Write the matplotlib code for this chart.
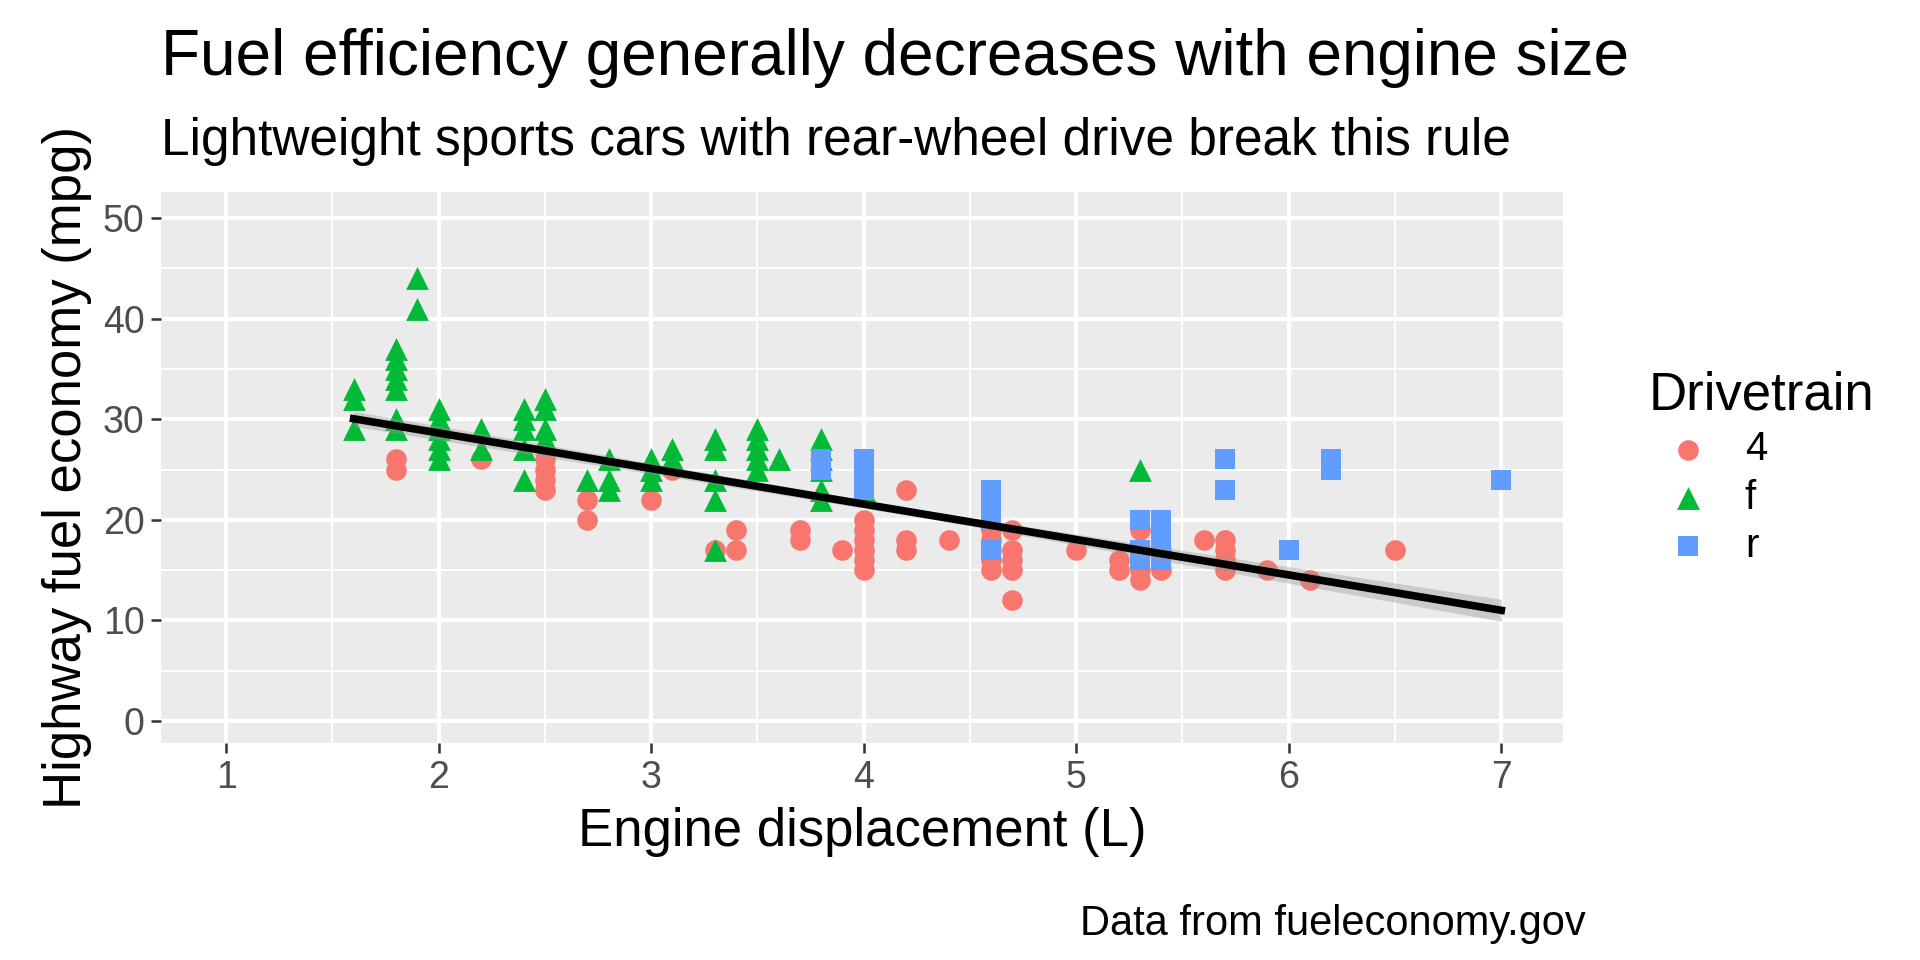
import matplotlib
matplotlib.use("Agg")
import matplotlib.pyplot as plt
import numpy as np

plt.rcParams['font.family'] = ['Liberation Sans', 'DejaVu Sans']

# displacement / highway mpg
x_4 = [1.8, 1.8, 2.2, 2.5, 2.5, 2.5, 2.5, 2.7, 2.7, 3.0, 3.1, 3.3, 3.4, 3.4, 3.7, 3.7, 3.9,
       4.0, 4.0, 4.0, 4.0, 4.0, 4.0, 4.2, 4.2, 4.2, 4.4, 4.6, 4.6, 4.6, 4.6, 4.6,
       4.7, 4.7, 4.7, 4.7, 4.7, 5.0, 5.2, 5.2, 5.3, 5.3, 5.3, 5.4, 5.4, 5.6,
       5.7, 5.7, 5.7, 5.7, 5.9, 6.1, 6.5]
y_4 = [26, 25, 26, 26, 25, 24, 23, 22, 20, 22, 25, 17, 19, 17, 19, 18, 17,
       20, 19, 18, 17, 16, 15, 23, 18, 17, 18, 19, 18, 17, 16, 15,
       19, 17, 16, 15, 12, 17, 16, 15, 19, 15, 14, 15, 17, 18,
       18, 17, 16, 15, 15, 14, 17]
x_f = [1.6, 1.6, 1.6, 1.8, 1.8, 1.8, 1.8, 1.8, 1.8, 1.8, 1.9, 1.9,
       2.0, 2.0, 2.0, 2.0, 2.0, 2.0, 2.2, 2.2, 2.4, 2.4, 2.4, 2.4, 2.4,
       2.5, 2.5, 2.5, 2.5, 2.7, 2.8, 2.8, 2.8, 3.0, 3.0, 3.0, 3.1, 3.1,
       3.3, 3.3, 3.3, 3.3, 3.3, 3.5, 3.5, 3.5, 3.5, 3.5, 3.6,
       3.8, 3.8, 3.8, 3.8, 3.8, 3.8, 4.0, 5.3]
y_f = [33, 32, 29, 37, 36, 35, 34, 33, 30, 29, 44, 41,
       31, 30, 29, 28, 27, 26, 29, 27, 31, 30, 29, 27, 24,
       32, 31, 29, 28, 24, 26, 24, 23, 26, 25, 24, 27, 26,
       28, 27, 24, 22, 17, 29, 28, 27, 26, 25, 26,
       28, 27, 26, 25, 23, 22, 23, 25]
x_r = [3.8, 3.8, 4.0, 4.0, 4.0, 4.0, 4.6, 4.6, 4.6, 4.6, 4.6,
       5.3, 5.3, 5.3, 5.4, 5.4, 5.4, 5.4, 5.4, 5.7, 5.7, 6.0, 6.2, 6.2, 7.0]
y_r = [26, 25, 26, 25, 24, 23, 23, 22, 21, 20, 17,
       20, 17, 16, 20, 19, 18, 17, 16, 26, 23, 17, 26, 25, 24]

# linear fit line (hwy ~ displ) and its confidence band
fit_x = [1.6, 4.3, 7.0]
fit_y = [30.05, 20.5, 11.0]
fit_se = [0.75, 0.35, 1.1]

fig = plt.figure(figsize=(19.2, 9.6), dpi=100)
ax = fig.add_axes([0.084, 0.226, 0.73, 0.574])
ax.set_facecolor('#EBEBEB')
for s in ax.spines.values():
    s.set_visible(False)

ax.set_xlim(0.695, 7.29)
ax.set_ylim(-2.2, 52.6)
ax.set_xticks([1, 2, 3, 4, 5, 6, 7])
ax.set_xticks(np.arange(1.5, 7.0, 1.0), minor=True)
ax.set_yticks([0, 10, 20, 30, 40, 50])
ax.set_yticks([5, 15, 25, 35, 45], minor=True)
ax.grid(which='major', color='white', lw=3)
ax.grid(which='minor', color='white', lw=1.4)
ax.set_axisbelow(True)
ax.tick_params(which='major', length=7, width=1.8, color='#333333',
               labelsize=27, labelcolor='#4D4D4D', pad=5)
ax.tick_params(which='minor', length=0)

ax.scatter(x_4, y_4, s=220, marker='o', color='#F8766D', lw=0, label='4', zorder=3)
ax.scatter(x_f, y_f, s=270, marker='^', color='#00BA38', lw=0, label='f', zorder=3)
ax.scatter(x_r, y_r, s=220, marker='s', color='#619CFF', lw=0, label='r', zorder=3)

fx = np.array(fit_x); fy = np.array(fit_y); fs = np.array(fit_se)
ax.fill_between(fx, fy - fs, fy + fs, color='#999999', alpha=0.4, lw=0, zorder=4)
ax.plot(fx, fy, color='black', lw=5.5, zorder=5)

ax.set_xlabel('Engine displacement (L)', fontsize=38, labelpad=8)
ax.set_ylabel('Highway fuel economy (mpg)', fontsize=38, labelpad=8)

fig.text(0.084, 0.94, 'Fuel efficiency generally decreases with engine size',
         fontsize=46, va='center')
fig.text(0.084, 0.853, 'Lightweight sports cars with rear-wheel drive break this rule',
         fontsize=37, va='center')
fig.text(0.826, 0.038, 'Data from fueleconomy.gov', fontsize=30, ha='right', va='center')

leg = ax.legend(loc='center left', bbox_to_anchor=(1.035, 0.5), frameon=False,
                title='Drivetrain', fontsize=29, title_fontsize=38,
                handletextpad=0.4, labelspacing=0.25, markerscale=1.0)
leg._legend_box.align = 'left'

fig.savefig('out.png', dpi=100)
